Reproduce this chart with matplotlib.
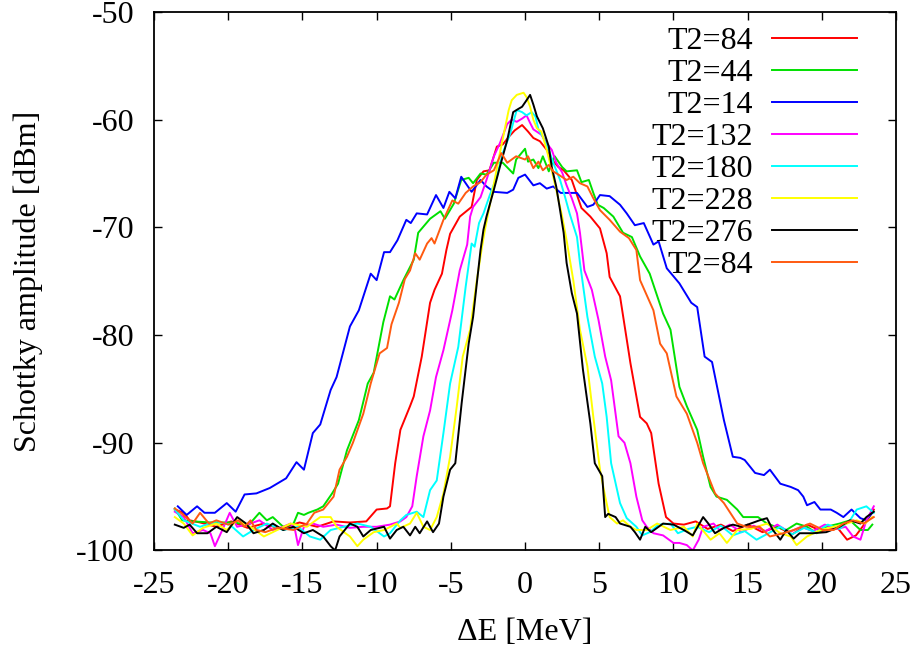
import numpy as np
import matplotlib
matplotlib.use('Agg')
import matplotlib.pyplot as plt

plt.rcParams['font.family'] = ['Liberation Serif', 'DejaVu Serif']
plt.rcParams['axes.unicode_minus'] = False

# --- data (dE [MeV], amplitude [dBm]) ---
x_t84 = [-23.6, -23.0, -22.6, -21.9, -20.8, -19.8, -18.7, -17.6, -16.5, -15.2, -14.0, -12.9, -11.8, -10.7,
         -10.0, -9.3, -9.1, -8.75, -8.4, -7.75, -7.5, -6.96, -6.4, -6.1, -5.6, -5.3, -5.05, -4.4, -3.6,
         -3.25, -2.8, -2.4, -1.9, -1.5, -1.1, -0.7, -0.2, 0.2, 0.56, 1.0, 1.46, 1.8, 2.25, 2.6, 3.15, 3.5,
         3.8, 4.4, 5.05, 5.5, 5.7, 6.4, 7.1, 7.75, 8.2, 8.5, 9.0, 9.5, 10.0, 10.7, 11.5, 12.3, 13.2, 14.0,
         15.0, 16.0, 17.0, 18.0, 19.0, 20.0, 21.0, 21.7, 22.3, 22.9, 23.5]
y_t84 = [-96.2, -96.5, -97.2, -97.4, -97.8, -97.3, -97.9, -97.5, -98.0, -97.4, -97.8, -97.3, -97.4, -97.3,
         -96.2, -96.1, -95.9, -91.9, -88.8, -86.6, -85.7, -82.0, -77.0, -75.8, -74.3, -72.1, -70.6, -69.0, -68.1,
         -65.6, -64.8, -64.7, -62.5, -62.3, -61.6, -61.0, -60.5, -61.1, -61.7, -62.0, -62.8, -63.7, -64.4, -64.7,
         -65.6, -67.0, -68.2, -69.0, -70.1, -72.4, -74.6, -76.4, -82.6, -87.6, -88.2, -89.1, -93.8, -96.9, -97.5,
         -97.6, -97.3, -98.0, -97.6, -98.2, -97.6, -98.3, -97.8, -98.5, -97.6, -98.2, -97.8, -99.0, -98.6, -97.5,
         -96.2]

x_t44 = [-23.6, -23.1, -22.35, -21.2, -19.7, -18.6, -17.9, -17.4, -17.0, -16.3, -15.6, -15.3, -14.9, -14.6,
         -14.0, -13.6, -13.0, -12.6, -12.0, -11.2, -10.6, -10.2, -9.55, -9.1, -8.8, -8.2, -7.5, -7.2, -6.4,
         -5.7, -5.4, -4.8, -4.3, -3.8, -3.5, -3.0, -2.6, -2.1, -1.5, -0.8, -0.6, 0.0, 0.2, 0.56, 0.9, 1.2,
         1.6, 2.0, 2.5, 2.8, 3.5, 3.8, 4.3, 4.6, 4.9, 5.3, 5.95, 6.6, 7.2, 7.75, 8.4, 9.3, 9.8, 10.4, 10.9,
         11.6, 12.0, 12.5, 12.9, 13.6, 14.3, 14.7, 15.7, 16.3, 16.9, 17.6, 18.3, 19.0, 19.65, 20.3, 21.2, 21.9,
         22.6, 23.1, 23.4]
y_t44 = [-96.1, -97.2, -97.3, -97.4, -97.4, -97.6, -96.5, -97.2, -96.9, -97.8, -97.5, -96.5, -96.7, -96.5,
         -96.2, -95.9, -94.7, -93.8, -90.7, -87.9, -84.5, -83.5, -78.8, -76.4, -76.7, -74.9, -73.0, -70.5, -69.2,
         -68.5, -69.2, -67.8, -65.6, -65.4, -65.9, -65.0, -65.1, -64.0, -64.0, -65.0, -63.7, -62.7, -63.9, -63.7,
         -64.5, -63.4, -64.8, -63.4, -64.4, -64.8, -64.7, -65.8, -65.6, -66.8, -67.9, -68.2, -69.0, -70.5, -70.9,
         -72.7, -74.3, -78.0, -79.5, -84.8, -86.6, -88.8, -91.3, -94.1, -95.0, -95.3, -96.2, -96.9, -96.9, -97.5,
         -97.8, -98.1, -97.5, -97.8, -98.4, -97.8, -97.5, -97.2, -98.1, -98.1, -97.6]

x_t14 = [-23.4, -22.8, -22.1, -21.6, -20.9, -20.1, -19.5, -18.9, -18.1, -17.2, -16.1, -15.4, -14.9, -14.3,
         -13.8, -13.1, -12.7, -11.8, -11.2, -10.4, -10.0, -9.5, -9.1, -8.6, -8.0, -7.7, -7.3, -6.6, -6.0, -5.5,
         -5.1, -4.7, -4.3, -3.6, -3.0, -2.6, -2.1, -1.2, -0.8, -0.45, 0.0, 0.56, 1.0, 1.46, 1.9, 2.4, 3.5, 4.2,
         4.6, 5.05, 5.7, 6.4, 6.85, 7.4, 8.0, 8.65, 9.0, 9.55, 10.4, 11.2, 11.6, 12.1, 12.6, 13.4, 14.0, 14.5,
         14.8, 15.5, 16.1, 16.5, 17.2, 17.9, 18.4, 18.75, 19.0, 19.5, 19.9, 20.6, 21.0, 21.45, 22.0, 22.6, 23.0,
         23.4]
y_t14 = [-95.9, -96.7, -95.9, -96.5, -96.5, -95.6, -96.4, -94.8, -94.7, -94.2, -93.3, -91.8, -92.5, -89.1,
         -88.3, -85.1, -83.9, -79.2, -77.7, -74.3, -74.9, -72.3, -72.3, -71.2, -69.3, -69.6, -68.7, -68.8, -67.0,
         -68.2, -66.7, -67.3, -65.3, -66.7, -65.6, -66.2, -66.7, -66.8, -66.5, -65.4, -65.1, -66.1, -65.9, -66.4,
         -66.2, -66.8, -66.8, -68.1, -67.9, -67.0, -67.1, -67.9, -68.7, -69.8, -69.6, -71.6, -71.3, -73.8, -75.2,
         -77.0, -77.4, -82.0, -82.5, -87.9, -91.3, -91.4, -91.6, -92.8, -93.0, -92.5, -93.8, -94.1, -94.4, -95.0,
         -95.8, -95.5, -96.2, -96.2, -96.5, -96.9, -96.2, -97.0, -97.2, -96.5]

x_t132 = [-23.6, -23.0, -22.4, -21.7, -21.2, -20.9, -20.4, -19.9, -19.4, -18.5, -17.9, -17.0, -16.3, -15.8,
          -15.5, -15.3, -14.9, -14.3, -13.6, -12.7, -11.8, -10.9, -10.0, -9.1, -8.4, -8.0, -7.6, -7.3, -6.85,
          -6.4, -6.0, -5.5, -4.9, -4.4, -3.9, -3.7, -3.5, -3.0, -2.6, -2.1, -1.7, -1.2, -0.9, -0.56, -0.2, 0.1,
          0.34, 0.56, 1.1, 1.46, 1.8, 2.1, 2.5, 2.8, 3.15, 3.5, 3.7, 4.0, 4.5, 4.95, 5.4, 5.8, 6.3, 6.7, 7.1,
          7.5, 7.9, 8.2, 8.65, 9.3, 10.0, 10.4, 10.9, 11.3, 11.7, 12.0, 12.7, 13.1, 13.8, 14.6, 15.4, 16.2,
          17.0, 17.8, 18.6, 19.4, 20.2, 21.0, 21.6, 22.1, 22.6, 23.0, 23.5]
y_t132 = [-96.4, -96.9, -98.4, -98.1, -98.4, -99.6, -98.1, -96.5, -97.8, -97.5, -97.2, -98.1, -97.8, -97.5,
          -98.1, -99.5, -97.8, -97.5, -97.8, -97.6, -97.9, -97.8, -97.8, -97.6, -97.3, -96.9, -95.9, -93.1, -89.4,
          -87.0, -83.9, -81.4, -77.7, -74.0, -71.6, -69.0, -68.1, -67.2, -65.6, -63.4, -62.2, -60.4, -60.0, -60.2,
          -59.9, -59.6, -60.3, -60.9, -61.4, -62.2, -62.8, -64.0, -64.9, -66.1, -67.3, -68.7, -70.5, -74.0, -75.8,
          -78.6, -82.0, -84.2, -89.4, -90.0, -91.9, -95.0, -97.2, -97.8, -98.4, -98.6, -99.3, -99.3, -99.5, -100.0,
          -99.0, -97.8, -97.5, -98.1, -97.6, -98.3, -97.7, -98.2, -97.6, -98.3, -97.8, -98.2, -97.6, -98.0, -97.8,
          -98.7, -99.0, -97.2, -95.9]

x_t180 = [-23.6, -23.0, -21.9, -20.8, -19.9, -19.0, -18.3, -17.4, -16.3, -15.3, -14.5, -13.8, -13.1, -12.2,
          -11.3, -10.4, -9.5, -9.1, -8.4, -8.0, -7.3, -6.85, -6.4, -5.95, -5.5, -5.05, -4.5, -4.0, -3.6, -3.4,
          -3.1, -2.8, -2.4, -1.9, -1.5, -1.0, -0.56, -0.2, 0.1, 0.45, 0.7, 0.9, 1.2, 1.6, 1.9, 2.36, 2.7, 3.0,
          3.5, 3.7, 4.2, 4.7, 5.2, 5.5, 5.8, 6.4, 6.85, 7.5, 7.9, 8.4, 9.0, 9.8, 10.3, 11.0, 11.6, 12.4, 13.2,
          14.0, 14.8, 15.6, 16.4, 17.2, 18.0, 18.8, 19.6, 20.4, 21.2, 21.9, 22.35, 23.0, 23.5]
y_t180 = [-96.2, -97.2, -97.8, -97.3, -97.6, -98.7, -98.1, -97.5, -98.1, -97.8, -98.7, -99.0, -98.1, -97.8,
          -97.5, -97.8, -98.7, -98.4, -97.2, -96.7, -96.4, -96.9, -94.4, -93.5, -89.1, -84.5, -81.1, -75.5, -71.5,
          -71.8, -69.6, -68.7, -67.1, -65.3, -63.1, -61.3, -59.1, -59.3, -59.6, -59.3, -59.7, -60.9, -61.6, -62.8,
          -64.0, -65.6, -67.2, -68.7, -70.9, -73.3, -78.3, -82.0, -84.5, -87.6, -91.9, -95.6, -97.0, -97.8, -98.6,
          -98.3, -97.6, -97.5, -98.4, -98.0, -97.8, -98.3, -97.7, -98.6, -98.2, -99.0, -98.4, -97.8, -98.5, -97.9,
          -98.3, -97.6, -98.0, -97.2, -96.2, -95.9, -96.5]

x_t228 = [-23.6, -23.0, -22.4, -21.7, -20.8, -20.1, -19.4, -18.5, -17.6, -16.7, -15.8, -14.7, -13.8, -13.1,
          -12.7, -11.8, -11.3, -10.9, -10.2, -9.5, -8.65, -8.4, -7.75, -7.3, -6.85, -6.4, -5.95, -5.5, -5.05,
          -4.6, -4.2, -3.7, -3.25, -2.9, -2.7, -2.4, -1.7, -1.1, -0.9, -0.56, -0.1, 0.1, 0.34, 0.56, 0.8, 1.1,
          1.46, 1.8, 2.1, 2.5, 2.8, 3.25, 3.7, 4.2, 4.6, 5.05, 5.4, 5.7, 6.2, 6.6, 7.1, 7.5, 8.2, 8.9, 9.8,
          10.7, 11.3, 11.6, 12.5, 13.1, 13.6, 14.3, 15.2, 16.3, 17.2, 17.9, 18.3, 19.0, 19.9, 20.8, 21.7, 22.35,
          22.9, 23.4]
y_t228 = [-96.9, -97.5, -98.6, -97.9, -97.5, -98.1, -97.2, -97.8, -98.7, -98.1, -97.5, -97.8, -96.9, -96.9,
          -97.8, -98.7, -99.6, -99.0, -98.3, -98.1, -97.5, -97.9, -97.5, -96.5, -97.8, -98.1, -96.9, -94.7, -91.3,
          -86.6, -82.0, -79.5, -74.9, -71.8, -70.2, -68.1, -63.1, -59.1, -58.2, -57.7, -57.5, -57.9, -58.8, -60.0,
          -60.8, -61.1, -62.8, -64.7, -66.5, -69.0, -71.2, -74.9, -79.5, -82.9, -87.6, -92.5, -95.0, -96.9, -97.5,
          -97.2, -97.8, -98.1, -98.1, -97.5, -98.1, -97.8, -98.7, -97.5, -99.0, -98.4, -99.3, -98.1, -98.0, -97.5,
          -98.4, -98.7, -99.5, -98.7, -98.1, -97.8, -97.5, -97.2, -97.5, -96.9]

x_t276 = [-23.6, -23.0, -22.6, -22.1, -21.4, -20.8, -20.1, -19.4, -18.8, -18.3, -17.6, -17.0, -16.3, -15.6,
          -14.9, -14.3, -13.6, -13.1, -12.8, -12.5, -11.8, -11.3, -10.9, -10.4, -9.5, -9.1, -8.65, -8.2, -7.75,
          -7.4, -7.1, -6.6, -6.2, -5.8, -5.5, -5.05, -4.7, -4.27, -3.8, -3.5, -3.0, -2.8, -2.6, -2.1, -1.7, -1.2,
          -0.8, -0.45, -0.2, 0.1, 0.34, 0.56, 0.8, 1.2, 1.6, 1.8, 2.1, 2.36, 2.6, 2.8, 3.15, 3.5, 3.9, 4.4, 4.7,
          5.2, 5.4, 5.6, 6.1, 6.4, 7.1, 7.4, 7.75, 8.1, 8.5, 9.3, 10.0, 10.7, 11.3, 12.0, 12.35, 12.8, 13.4,
          14.0, 14.6, 15.2, 15.8, 16.3, 16.7, 17.2, 17.6, 18.1, 18.5, 19.4, 20.3, 21.2, 21.9, 22.6, 23.0, 23.5]
y_t276 = [-97.6, -97.9, -97.6, -98.4, -98.4, -97.8, -98.3, -96.9, -97.5, -98.4, -98.1, -97.5, -98.1, -97.8,
          -98.4, -98.1, -98.7, -99.6, -100.0, -98.7, -97.5, -97.8, -98.7, -98.1, -97.8, -98.9, -98.1, -97.8, -98.6,
          -97.8, -98.4, -97.3, -98.3, -97.5, -95.0, -92.5, -91.9, -86.3, -80.8, -78.3, -72.1, -70.2, -69.0, -66.5,
          -64.4, -61.9, -59.3, -59.0, -58.8, -58.2, -57.7, -58.6, -59.7, -60.8, -62.5, -64.4, -66.2, -68.4, -70.5,
          -73.3, -76.1, -78.0, -83.2, -88.2, -91.9, -93.1, -96.9, -96.6, -96.9, -97.5, -97.8, -98.3, -99.0, -97.8,
          -98.3, -97.5, -97.6, -98.1, -98.6, -96.9, -97.5, -98.4, -97.9, -97.6, -97.8, -97.5, -97.2, -97.0, -98.1,
          -99.0, -98.1, -98.9, -98.4, -98.4, -98.3, -97.8, -97.2, -97.5, -96.9, -96.4]

x_t84b = [-23.6, -23.1, -22.4, -21.9, -21.3, -20.8, -20.0, -19.3, -18.9, -18.5, -18.1, -17.5, -16.7, -15.6,
          -14.7, -14.2, -13.6, -12.9, -12.5, -12.0, -11.6, -10.9, -10.4, -9.8, -9.3, -9.0, -8.5, -8.1, -7.75,
          -7.4, -7.1, -6.6, -6.3, -6.1, -5.5, -4.9, -4.5, -4.0, -3.5, -3.0, -2.6, -2.1, -1.6, -1.2, -0.6, 0.0,
          0.2, 0.56, 0.9, 1.2, 1.6, 1.9, 2.36, 2.8, 3.25, 3.7, 4.2, 4.6, 5.05, 5.7, 6.4, 7.0, 7.5, 7.75, 8.65,
          9.1, 9.55, 10.2, 10.9, 11.6, 12.0, 12.8, 13.4, 14.3, 14.9, 15.8, 16.5, 17.4, 18.1, 19.2, 20.1, 20.8,
          21.45, 22.1, 22.8, 23.5]
y_t84b = [-96.1, -96.6, -97.5, -96.5, -97.5, -97.2, -97.6, -97.2, -97.8, -97.2, -98.1, -98.3, -97.9, -98.1,
          -97.5, -96.5, -96.2, -95.0, -92.5, -91.3, -90.0, -87.3, -84.5, -81.7, -81.2, -79.0, -77.0, -74.8, -74.0,
          -72.4, -73.0, -71.5, -71.0, -71.5, -69.3, -67.5, -67.8, -66.8, -66.2, -65.8, -65.1, -64.7, -63.1, -64.0,
          -63.4, -63.7, -63.4, -64.5, -63.9, -64.7, -64.2, -64.8, -65.2, -65.6, -65.3, -65.9, -66.2, -67.3, -68.4,
          -69.3, -70.4, -71.0, -72.1, -74.9, -77.7, -80.8, -81.7, -85.7, -87.3, -90.0, -91.9, -94.7, -95.6, -97.5,
          -97.8, -97.8, -98.7, -98.4, -98.1, -97.5, -98.1, -98.1, -97.5, -97.2, -97.5, -96.9]

series = [
    ('T2=84', x_t84, y_t84, '#ff0000'),
    ('T2=44', x_t44, y_t44, '#00e000'),
    ('T2=14', x_t14, y_t14, '#0000ff'),
    ('T2=132', x_t132, y_t132, '#ff00ff'),
    ('T2=180', x_t180, y_t180, '#00ffff'),
    ('T2=228', x_t228, y_t228, '#ffff00'),
    ('T2=276', x_t276, y_t276, '#000000'),
    ('T2=84', x_t84b, y_t84b, '#ff5a10'),
]

fig = plt.figure(figsize=(9.18, 6.54), dpi=100)
ax = fig.add_axes([0.1678, 0.1583, 0.8083, 0.8234])

for label, xs, ys, col in series:
    ax.plot(xs, ys, color=col, lw=1.4, label=label)

ax.set_xlim(-25, 25)
ax.set_ylim(-100, -50)
ax.set_xticks(np.arange(-25, 26, 5))
ax.set_yticks(np.arange(-100, -49, 10))
ax.tick_params(direction='in', length=6, width=1, top=True, right=True, labelsize=23)
ax.tick_params(axis='x', pad=15)
ax.tick_params(axis='y', pad=14)
for sp in ax.spines.values():
    sp.set_linewidth(1.3)

ax.set_xlabel('ΔE [MeV]', fontsize=23, labelpad=13)
ax.set_ylabel('Schottky amplitude [dBm]', fontsize=23, labelpad=24)

ax.legend(loc='upper right', bbox_to_anchor=(0.947, 0.973), frameon=False,
          markerfirst=False, fontsize=23, handlelength=2.65, handletextpad=0.6,
          labelspacing=0.085, borderpad=0, borderaxespad=0)

fig.savefig('out.png', dpi=100)
